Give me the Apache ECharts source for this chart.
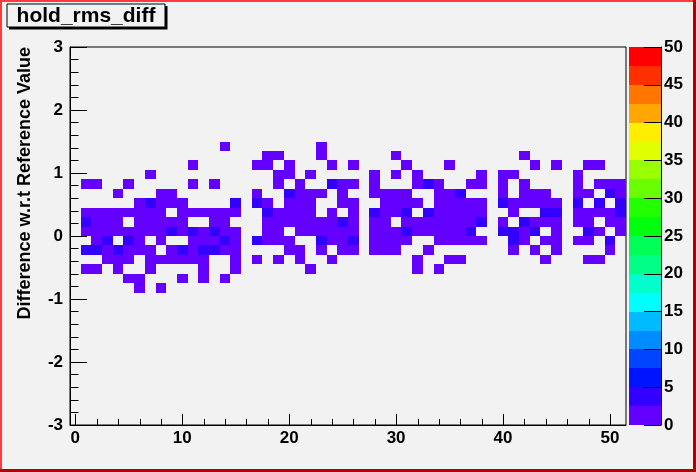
<!DOCTYPE html>
<html><head><meta charset="utf-8">
<script src="https://cdn.jsdelivr.net/npm/echarts@6/dist/echarts.min.js"></script>
<style>html,body{margin:0;padding:0;background:#f2f2f2}#c{width:696px;height:472px}</style>
</head><body><div id="c"></div>
<script>
// ---------- data ----------
const chartTitle = 'hold_rms_diff';
const yAxisTitle = 'Difference w.r.t Reference Value';
const xRange = [-0.5, 51.5];           // 52 bins of width 1, centred on 0..51
const yRange = [-3, 3];
const yBinWidth = 0.15;                // 40 bins from -3 to 3
// lower edge of each occupied y bin (top row first)
const rowLows = [1.35, 1.2, 1.05, 0.9, 0.75, 0.6, 0.45, 0.3, 0.15, 0, -0.15, -0.3, -0.45, -0.6, -0.75, -0.9];
// x bin centres of cells in the lowest colour level (purple)
const purpleCols = [
  [14, 23],
  [18, 19, 23, 30, 42],
  [11, 17, 18, 20, 24, 26, 31, 35, 43, 45, 48, 49],
  [7, 19, 20, 22, 28, 30, 32, 38, 40, 41, 47],
  [1, 2, 5, 11, 13, 19, 21, 25, 26, 28, 32, 34, 37, 38, 40, 42, 47, 49, 50, 51],
  [4, 8, 9, 17, 21, 22, 23, 25, 28, 29, 30, 31, 34, 35, 40, 42, 43, 44, 47, 48, 51],
  [6, 8, 9, 10, 18, 20, 21, 22, 25, 26, 29, 30, 31, 32, 34, 35, 36, 37, 38, 41, 42, 43, 44, 45],
  [1, 2, 3, 4, 5, 6, 7, 8, 10, 11, 12, 13, 14, 15, 19, 20, 21, 22, 24, 26, 29, 30, 34, 35, 36, 37, 38, 41, 47, 48, 49, 50],
  [2, 3, 4, 6, 7, 8, 9, 10, 13, 14, 18, 19, 20, 21, 22, 23, 24, 26, 28, 29, 31, 32, 33, 34, 35, 36, 37, 40, 43, 44, 45, 47, 48, 50, 51],
  [1, 2, 3, 4, 5, 6, 7, 8, 10, 12, 14, 15, 18, 19, 21, 22, 23, 24, 25, 26, 28, 29, 30, 32, 33, 34, 35, 36, 42, 45, 49, 51],
  [2, 6, 8, 11, 12, 13, 15, 18, 19, 20, 24, 25, 28, 29, 30, 31, 34, 35, 36, 37, 38, 42, 44, 45, 47, 48],
  [3, 5, 6, 7, 9, 11, 14, 15, 20, 21, 23, 25, 26, 28, 29, 30, 33, 41, 43, 45, 50],
  [3, 4, 5, 7, 8, 9, 10, 11, 12, 15, 17, 19, 21, 24, 32, 35, 36, 44, 48, 49],
  [1, 2, 4, 7, 12, 15, 22, 32, 34],
  [5, 6, 10, 12, 14],
  [6, 8]
];
// x bin centres of cells in the second colour level (blue)
const blueCols = [
  [], [], [], [],
  [24, 33],
  [20, 36, 50],
  [7, 15, 17, 40, 47, 49, 51],
  [18, 28, 31, 33, 44, 45, 51],
  [1, 25, 38, 42],
  [9, 11, 13, 31, 37, 40, 41, 43, 48],
  [3, 5, 14, 17, 23, 26, 41, 50],
  [1, 2, 4, 10, 12, 13],
  [], [], [], []
];
const purpleCount = 1;
const blueCount = 3;
const xMajorTicks = [0, 10, 20, 30, 40, 50];
const xMinorTicks = [2, 4, 6, 8, 12, 14, 16, 18, 22, 24, 26, 28, 32, 34, 36, 38, 42, 44, 46, 48];
const zLevelEdges = [0, 2.5, 5, 7.5, 10, 12.5, 15, 17.5, 20, 22.5, 25, 27.5, 30, 32.5, 35, 37.5, 40, 42.5, 45, 47.5, 50];
const paletteColors = ['#6300ff', '#3300ff', '#0014ff', '#0044ff', '#008bff', '#00bbff', '#00fffc', '#00ffcc', '#00ff85', '#00ff55',
                       '#00ff0e', '#22ff00', '#69ff00', '#99ff00', '#e0ff00', '#ffee00', '#ffa700', '#ff7700', '#ff3000', '#ff0000'];

// ---------- build ----------
const heatData = [];
rowLows.forEach((y, r) => {
  purpleCols[r].forEach(c => heatData.push([c, y, purpleCount]));
  blueCols[r].forEach(c => heatData.push([c, y, blueCount]));
});
const levelData = zLevelEdges.slice(0, -1).map((lo, i) => [lo, zLevelEdges[i + 1], i]);
function colorFor(v) {
  for (let i = 0; i < zLevelEdges.length - 1; i++) if (v < zLevelEdges[i + 1]) return paletteColors[i];
  return paletteColors[paletteColors.length - 1];
}

const FONT = 'Liberation Sans, Arial, Helvetica, sans-serif';
const labelStyle = { color: '#000', fontFamily: FONT, fontWeight: 'bold', fontSize: 17 };
const G = { left: 70, top: 47, width: 556, height: 378 };
const minorTickLen = 6;

const chart = echarts.init(document.getElementById('c'), null, { renderer: 'canvas' });
chart.setOption({
  backgroundColor: '#f2f2f2',
  animation: false,
  grid: [
    Object.assign({ show: true, backgroundColor: '#f2f2f2', borderColor: '#000', borderWidth: 1 }, G),
    { left: 629, top: 47, width: 32, height: 378 }
  ],
  xAxis: [
    { type: 'value', gridIndex: 0, min: xRange[0], max: xRange[1], position: 'bottom', z: 10,
      axisLine: { show: true, onZero: false, lineStyle: { color: '#000', width: 1 } },
      axisTick: { show: true, inside: true, length: 11, customValues: xMajorTicks, lineStyle: { color: '#000' } },
      axisLabel: Object.assign({ show: true, customValues: xMajorTicks, margin: 5 }, labelStyle),
      splitLine: { show: false } },
    { type: 'value', gridIndex: 1, min: 0, max: 1, show: false }
  ],
  yAxis: [
    { type: 'value', gridIndex: 0, min: yRange[0], max: yRange[1], interval: 1, position: 'left', z: 10,
      axisLine: { show: true, onZero: false, lineStyle: { color: '#000', width: 1 } },
      axisTick: { show: true, inside: true, length: 17, lineStyle: { color: '#000' } },
      minorTick: { show: true, splitNumber: 5, length: 8.5, lineStyle: { color: '#000' } },
      axisLabel: Object.assign({ margin: 7 }, labelStyle),
      splitLine: { show: false }, minorSplitLine: { show: false } },
    { type: 'value', gridIndex: 1, min: 0, max: 50, interval: 5, position: 'right', z: 10,
      axisLine: { show: true, onZero: false, lineStyle: { color: '#000', width: 1 } },
      axisTick: { show: true, inside: true, length: 17, lineStyle: { color: '#000' } },
      axisLabel: Object.assign({ margin: 3 }, labelStyle),
      splitLine: { show: false } }
  ],
  series: [
    { type: 'custom', xAxisIndex: 0, yAxisIndex: 0, z: 2, clip: true,
      data: heatData,
      renderItem: function (params, api) {
        const x = api.value(0), y = api.value(1), v = api.value(2);
        const p0 = api.coord([x - 0.5, y + yBinWidth]);
        const p1 = api.coord([x + 0.5, y]);
        const x0 = Math.round(p0[0]), y0 = Math.round(p0[1]);
        const x1 = Math.round(p1[0]), y1 = Math.round(p1[1]);
        return { type: 'rect', shape: { x: x0, y: y0, width: x1 - x0, height: y1 - y0 },
                 style: { fill: colorFor(v), stroke: null } };
      } },
    // minor ticks of the x axis (every 2 units), placed through the axis scale
    { type: 'custom', xAxisIndex: 0, yAxisIndex: 0, z: 12, silent: true,
      data: xMinorTicks.map(v => [v, yRange[0]]),
      renderItem: function (params, api) {
        const p = api.coord([api.value(0), api.value(1)]);
        const x = Math.round(p[0]) + 0.5;
        return { type: 'line', shape: { x1: x, y1: p[1], x2: x, y2: p[1] - minorTickLen },
                 style: { stroke: '#000', lineWidth: 1 } };
      } },
    { type: 'custom', xAxisIndex: 1, yAxisIndex: 1, z: 2,
      data: levelData,
      renderItem: function (params, api) {
        const lo = api.value(0), hi = api.value(1), i = api.value(2);
        const p0 = api.coord([0, hi]);
        const p1 = api.coord([1, lo]);
        const x0 = Math.round(p0[0]), y0 = Math.round(p0[1]);
        const x1 = Math.round(p1[0]), y1 = Math.round(p1[1]);
        return { type: 'rect', shape: { x: x0, y: y0, width: x1 - x0, height: y1 - y0 },
                 style: { fill: paletteColors[i], stroke: null } };
      } }
  ],
  graphic: [
    // canvas border (raised look)
    { type: 'rect', shape: { x: 0, y: 0, width: 696, height: 2 }, style: { fill: '#ff3b3b' }, z: 100 },
    { type: 'rect', shape: { x: 0, y: 0, width: 2, height: 472 }, style: { fill: '#ff3b3b' }, z: 100 },
    { type: 'rect', shape: { x: 693, y: 0, width: 3, height: 472 }, style: { fill: '#b00000' }, z: 100 },
    { type: 'rect', shape: { x: 0, y: 469, width: 696, height: 3 }, style: { fill: '#b00000' }, z: 100 },
    // title box with shadow
    { type: 'rect', shape: { x: 9, y: 6, width: 158.5, height: 23.5 }, style: { fill: '#000' }, z: 100 },
    { type: 'rect', shape: { x: 7, y: 4, width: 158, height: 23 }, style: { fill: '#f2f2f2', stroke: '#000', lineWidth: 1 }, z: 101 },
    { type: 'text', x: 86, y: 16, z: 102,
      style: { text: chartTitle, fill: '#000', font: 'bold 21px ' + FONT, align: 'center', verticalAlign: 'middle' } },
    // y axis title
    { type: 'text', x: 25, y: 47, rotation: Math.PI / 2, z: 102,
      style: { text: yAxisTitle, fill: '#000', font: 'bold 18px ' + FONT, align: 'right', verticalAlign: 'middle' } }
  ]
});
</script>
</body></html>
